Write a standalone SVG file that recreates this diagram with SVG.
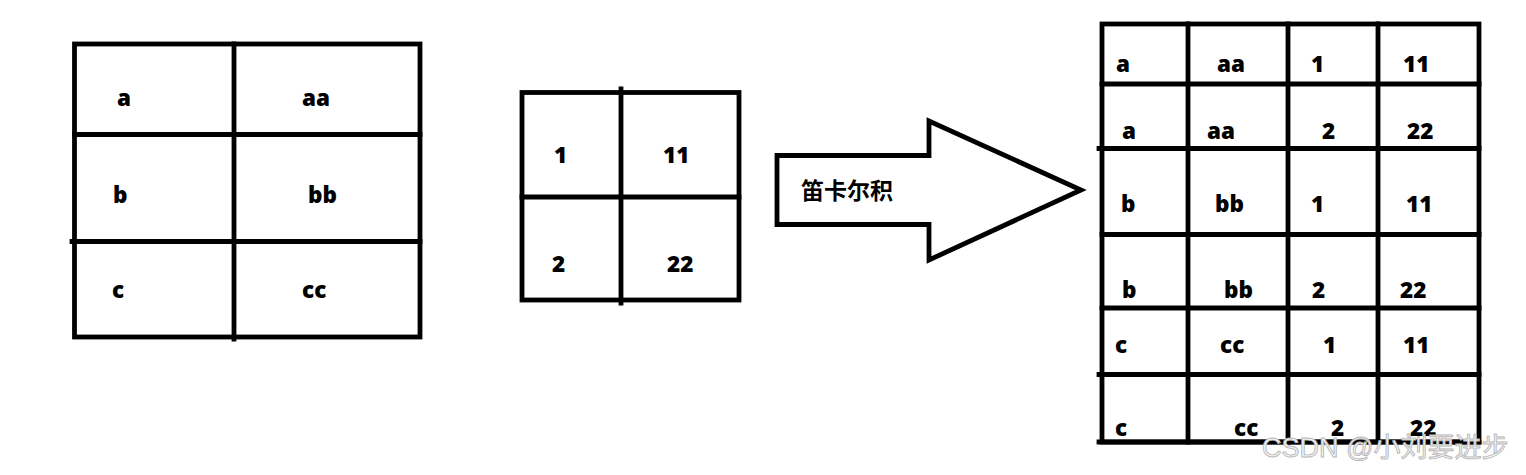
<svg xmlns="http://www.w3.org/2000/svg" width="1526" height="475" viewBox="0 0 1526 475">
<style>
.ln{stroke:#000;stroke-width:4.8;fill:none;stroke-linecap:square}
.t{font-family:"Open Sans","Noto Sans","Liberation Sans",sans-serif;font-weight:800;font-size:22.5px;fill:#000}
.cn{font-family:"Noto Sans CJK SC","Noto Sans",sans-serif;font-weight:bold;font-size:23px;fill:#000}
.wm{font-family:"Liberation Sans","Noto Sans CJK SC",sans-serif;font-size:27px;fill:#f4f4f4;stroke:#b8b8b8;stroke-width:0.9}
</style>
<rect width="1526" height="475" fill="#fff"/>
<g id="table1">
<rect class="ln" x="74.5" y="44" width="345.5" height="293"/>
<line class="ln" x1="234" y1="44" x2="234" y2="339"/>
<line class="ln" x1="74.5" y1="134.5" x2="420" y2="134.5"/>
<line class="ln" x1="72" y1="241.5" x2="420" y2="241.5"/>
<text class="t" x="117" y="106">a</text>
<text class="t" x="302" y="106">aa</text>
<text class="t" x="113" y="203">b</text>
<text class="t" x="308" y="203">bb</text>
<text class="t" x="112" y="298">c</text>
<text class="t" x="302" y="298">cc</text>
</g>
<g id="table2">
<rect class="ln" x="522" y="92.5" width="217" height="207.5"/>
<line class="ln" x1="621" y1="89" x2="621" y2="303"/>
<line class="ln" x1="522" y1="197" x2="739" y2="197"/>
<text class="t" x="554" y="163">1</text>
<text class="t" x="663" y="163">11</text>
<text class="t" x="552" y="272">2</text>
<text class="t" x="667" y="272">22</text>
</g>
<g id="arrow">
<polygon class="ln" stroke-linejoin="miter" points="777,155.5 929,155.5 929,121 1081,190 929,260 929,224.5 777,224.5"/>
<text class="cn" x="801" y="199">笛卡尔积</text>
</g>
<g id="table3">
<rect class="ln" x="1102" y="24" width="377" height="418"/>
<line class="ln" x1="1188" y1="24" x2="1188" y2="442"/>
<line class="ln" x1="1288" y1="24" x2="1288" y2="442"/>
<line class="ln" x1="1378" y1="24" x2="1378" y2="442"/>
<line class="ln" x1="1102" y1="84" x2="1479" y2="84"/>
<line class="ln" x1="1099" y1="148.5" x2="1479" y2="148.5"/>
<line class="ln" x1="1102" y1="234.5" x2="1479" y2="234.5"/>
<line class="ln" x1="1102" y1="308" x2="1479" y2="308"/>
<line class="ln" x1="1099" y1="374.5" x2="1479" y2="374.5"/>
<line class="ln" x1="1099" y1="442" x2="1479" y2="442"/>
<text class="t" x="1116" y="72">a</text>
<text class="t" x="1217" y="72">aa</text>
<text class="t" x="1311" y="72">1</text>
<text class="t" x="1403" y="72">11</text>
<text class="t" x="1122" y="139">a</text>
<text class="t" x="1207" y="139">aa</text>
<text class="t" x="1322" y="139">2</text>
<text class="t" x="1407" y="139">22</text>
<text class="t" x="1121" y="212">b</text>
<text class="t" x="1215" y="212">bb</text>
<text class="t" x="1311" y="212">1</text>
<text class="t" x="1406" y="212">11</text>
<text class="t" x="1122" y="298">b</text>
<text class="t" x="1224" y="298">bb</text>
<text class="t" x="1312" y="298">2</text>
<text class="t" x="1400" y="298">22</text>
<text class="t" x="1115" y="353">c</text>
<text class="t" x="1220" y="353">cc</text>
<text class="t" x="1323" y="353">1</text>
<text class="t" x="1403" y="353">11</text>
<text class="t" x="1115" y="436">c</text>
<text class="t" x="1234" y="436">cc</text>
<text class="t" x="1331" y="436">2</text>
<text class="t" x="1410" y="436">22</text>
</g>
<g id="connectors"/>
<text class="wm" x="1262" y="457">CSDN @小刘要进步</text>
</svg>
